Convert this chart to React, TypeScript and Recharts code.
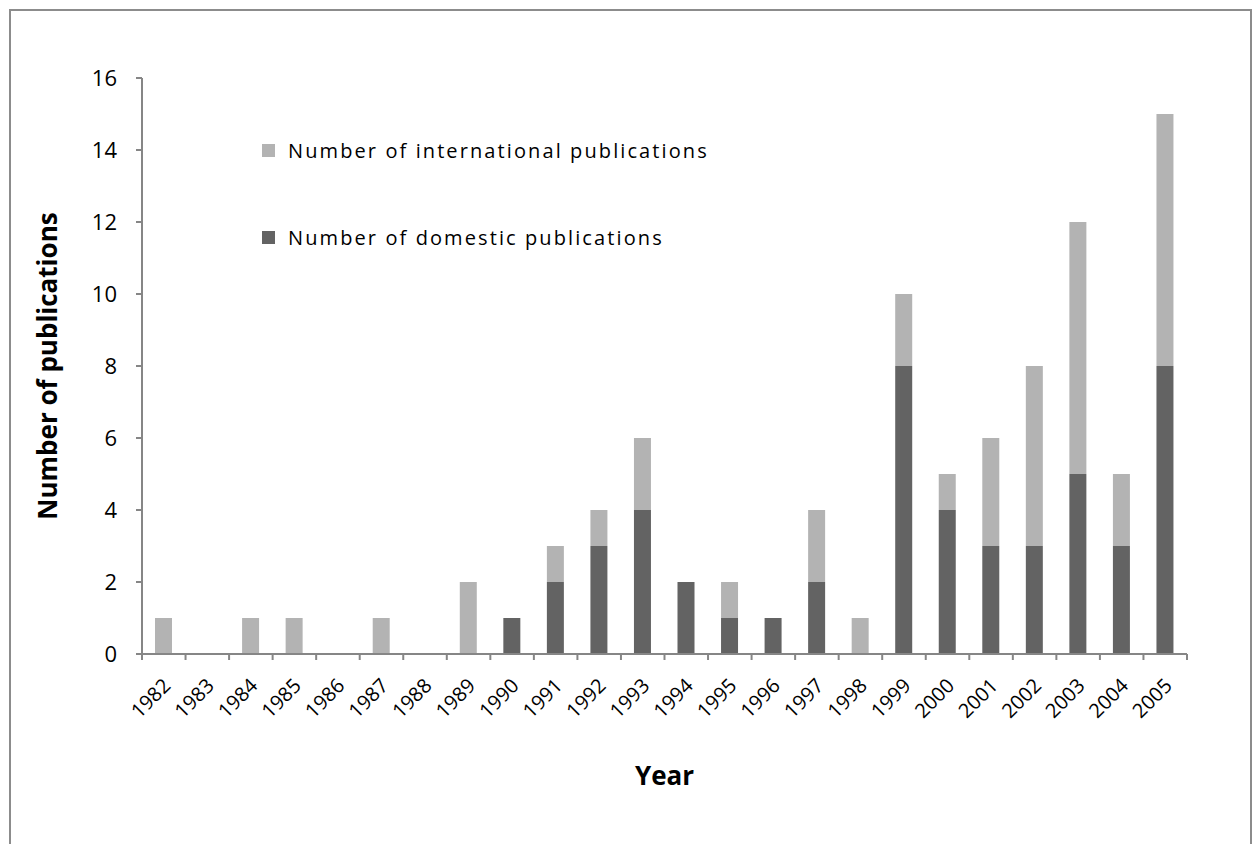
import { BarChart, Bar, XAxis, YAxis, Legend, Label } from "recharts";

const years = ["1982", "1983", "1984", "1985", "1986", "1987", "1988", "1989", "1990", "1991", "1992", "1993", "1994", "1995", "1996", "1997", "1998", "1999", "2000", "2001", "2002", "2003", "2004", "2005"];
const domestic = [0, 0, 0, 0, 0, 0, 0, 0, 1, 2, 3, 4, 2, 1, 1, 2, 0, 8, 4, 3, 3, 5, 3, 8];
const international = [1, 0, 1, 1, 0, 1, 0, 2, 0, 1, 1, 2, 0, 1, 0, 2, 1, 2, 1, 3, 5, 7, 2, 7];
const yTicks = [0, 2, 4, 6, 8, 10, 12, 14, 16];

const data = years.map((year, i) => ({
  year,
  domestic: domestic[i],
  international: international[i],
}));

const W = 1252;
const H = 844;
const MARGIN = { top: 78, right: 65, bottom: 70, left: 82 };
const Y_AXIS_W = 60;
const PLOT_W = W - MARGIN.left - Y_AXIS_W - MARGIN.right;
const BAND = PLOT_W / years.length;
const AXIS_COLOR = "#868686";
const FONT = "'Open Sans', sans-serif";

function YearTick(props: any) {
  const { x, y, payload, index } = props;
  const left = x - BAND / 2;
  return (
    <g>
      <line x1={left} y1={y - 8} x2={left} y2={y - 2} stroke={AXIS_COLOR} strokeWidth={2} />
      {index === years.length - 1 && (
        <line x1={left + BAND} y1={y - 8} x2={left + BAND} y2={y - 2} stroke={AXIS_COLOR} strokeWidth={2} />
      )}
      <text
        x={x + 8}
        y={y + 25}
        transform={`rotate(-45 ${x + 8} ${y + 25})`}
        textAnchor="end"
        fontSize={20}
        fontFamily={FONT}
        fill="#000"
      >
        {payload.value}
      </text>
    </g>
  );
}

function LegendBox(props: any) {
  const items = [...(props.payload || [])].reverse();
  return (
    <div style={{ fontFamily: FONT, fontSize: 20, letterSpacing: 2.1, color: "#000", whiteSpace: "nowrap" }}>
      {items.map((it: any) => (
        <div key={it.value} style={{ display: "flex", alignItems: "center", height: 30, marginBottom: 57 }}>
          <span style={{ width: 13, height: 13, background: it.color, display: "inline-block", marginRight: 13 }} />
          <span>{it.value}</span>
        </div>
      ))}
    </div>
  );
}

export default function App() {
  return (
    <div style={{ position: "absolute", left: 0, top: 0, width: W, height: H, background: "#fff" }}>
      <div
        style={{
          position: "absolute",
          left: 9,
          top: 9,
          width: W - 9,
          height: H,
          border: "2px solid #8c8c8c",
          boxSizing: "border-box",
        }}
      />
      <div style={{ position: "absolute", left: 0, top: 0 }}>
        <BarChart width={W} height={H} data={data} margin={MARGIN} barSize={17}>
          <XAxis
            dataKey="year"
            interval={0}
            height={120}
            stroke={AXIS_COLOR}
            strokeWidth={2}
            tickLine={false}
            tick={<YearTick />}
          >
            <Label
              value="Year"
              position="bottom"
              offset={-7}
              style={{ fontFamily: FONT, fontSize: 26, fontWeight: 700, fill: "#000" }}
            />
          </XAxis>
          <YAxis
            width={Y_AXIS_W}
            domain={[0, 16]}
            ticks={yTicks}
            interval={0}
            stroke={AXIS_COLOR}
            strokeWidth={2}
            tickSize={6}
            tickMargin={19}
            tick={{ fontFamily: FONT, fontSize: 22, fill: "#000" }}
          >
            <Label
              value="Number of publications"
              angle={-90}
              position="center"
              dx={-64}
              style={{ fontFamily: FONT, fontSize: 26, fontWeight: 700, fill: "#000", textAnchor: "middle" }}
            />
          </YAxis>
          <Legend
            layout="vertical"
            verticalAlign="middle"
            align="center"
            wrapperStyle={{ left: 262, top: 135, width: "auto", height: "auto" }}
            content={<LegendBox />}
          />
          <Bar dataKey="domestic" name="Number of domestic publications" stackId="a" fill="#636363" isAnimationActive={false} />
          <Bar dataKey="international" name="Number of international publications" stackId="a" fill="#b3b3b3" isAnimationActive={false} />
        </BarChart>
      </div>
    </div>
  );
}
